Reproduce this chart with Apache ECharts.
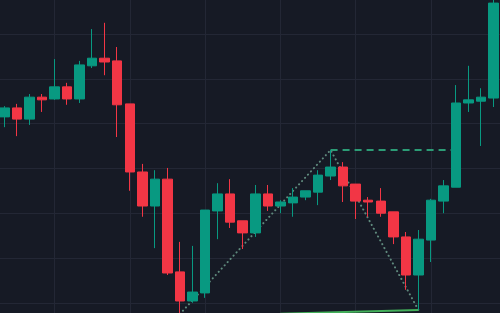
<!DOCTYPE html>
<html>
<head>
<meta charset="utf-8">
<style>
html,body{margin:0;padding:0;background:#161a25;overflow:hidden;}
#wrap{position:relative;width:500px;height:313px;overflow:hidden;}
#c{position:absolute;left:-2px;top:0;width:502px;height:313px;}
</style>
<script src="https://cdn.jsdelivr.net/npm/echarts@6/dist/echarts.min.js"></script>
</head>
<body>
<div id="wrap"><div id="c"></div></div>
<script>
// ---- data ----
const categories = Array.from({length: 40}, (_, i) => String(i + 1));
const opens  = [131.5,133.5,131.0,135.9,135.5,138.2,135.5,142.9,144.6,144.0,
                134.4,119.2,111.6,117.6,96.9,90.4,92.2,110.5,114.3,108.3,
                105.6,114.3,111.6,112.3,113.6,114.7,118.3,120.3,116.5,112.9,
                112.7,110.3,104.7,96.2,104.0,112.7,115.8,134.6,135.0,135.7];
const closes = [133.5,131.0,135.9,135.3,138.2,135.5,143.1,144.6,143.75,134.2,
                119.2,111.6,117.6,96.65,90.4,92.4,110.7,114.3,108.0,105.6,
                114.3,111.6,112.5,113.6,115.0,118.5,120.3,116.1,112.7,112.5,
                110.0,104.7,96.2,104.2,112.9,116.1,134.6,135.3,135.9,156.9];
const lows   = [129.2,127.2,129.7,132.6,135.3,134.2,134.6,142.4,140.8,127.0,
                115.0,109.2,102.2,96.2,87.5,90.0,91.1,104.2,106.7,102.0,
                104.7,110.5,110.0,109.2,112.9,111.8,117.4,112.5,108.7,109.2,
                109.2,103.1,92.9,88.4,99.1,110.0,115.8,132.6,125.0,133.7];
const highs  = [133.9,134.4,136.6,136.6,144.4,139.1,144.0,151.1,152.5,147.1,
                134.4,121.0,119.6,120.1,103.6,102.7,110.7,116.7,117.6,108.3,
                116.3,116.3,112.9,115.6,115.0,119.6,124.1,121.4,116.5,113.6,
                115.6,110.3,105.8,106.25,113.2,117.4,138.6,142.9,137.9,158.5];
// zigzag (dotted) pattern points: [candle index, price]
const zigzagPoints = [[14, 87.5], [26, 124.1], [33, 88.4]];
// dashed level line
const levelPoints = [[26, 124.1], [36, 124.1]];
// green support line
const supportPoints = [[22, 87.55], [33, 88.4]];
// visible price range (grid lines fall on multiples of 10)
const yMin = 87.72, yMax = 157.59;

const candleData = opens.map((o, i) => [o, closes[i], lows[i], highs[i]]);

const chart = echarts.init(document.getElementById('c'), null, {renderer: 'canvas'});
chart.setOption({
  backgroundColor: '#161a25',
  animation: false,
  grid: {left: 0, right: 0, top: 0, bottom: 0, containLabel: false},
  xAxis: {
    type: 'category',
    data: categories,
    boundaryGap: true,
    axisLine: {show: false},
    axisTick: {show: false},
    axisLabel: {show: false},
    splitLine: {
      show: true,
      alignWithLabel: true,
      interval: (idx) => idx % 6 === 4,
      lineStyle: {color: '#232735', width: 1}
    }
  },
  yAxis: {
    type: 'value',
    min: yMin, max: yMax, splitNumber: 7,
    axisLine: {show: false},
    axisTick: {show: false},
    axisLabel: {show: false},
    splitLine: {show: true, showMinLine: false, showMaxLine: false,
                lineStyle: {color: '#232735', width: 1}}
  },
  series: [
    {
      type: 'line',
      data: zigzagPoints,
      symbol: 'none',
      z: 2,
      lineStyle: {color: '#5f8a7d', width: 2, type: [0.1, 4.3], cap: 'round'}
    },
    {
      type: 'line',
      data: levelPoints,
      symbol: 'none',
      z: 2,
      lineStyle: {color: '#2c9c76', width: 2, type: [7, 5]}
    },
    {
      type: 'line',
      data: supportPoints,
      symbol: 'none',
      z: 2,
      lineStyle: {color: '#43b05a', width: 2}
    },
    {
      type: 'candlestick',
      data: candleData,
      barWidth: 10,
      z: 3,
      itemStyle: {
        color: '#089981',
        color0: '#f23645',
        borderColor: '#089981',
        borderColor0: '#f23645',
        borderWidth: 1
      }
    }
  ]
});
</script>
</body>
</html>
